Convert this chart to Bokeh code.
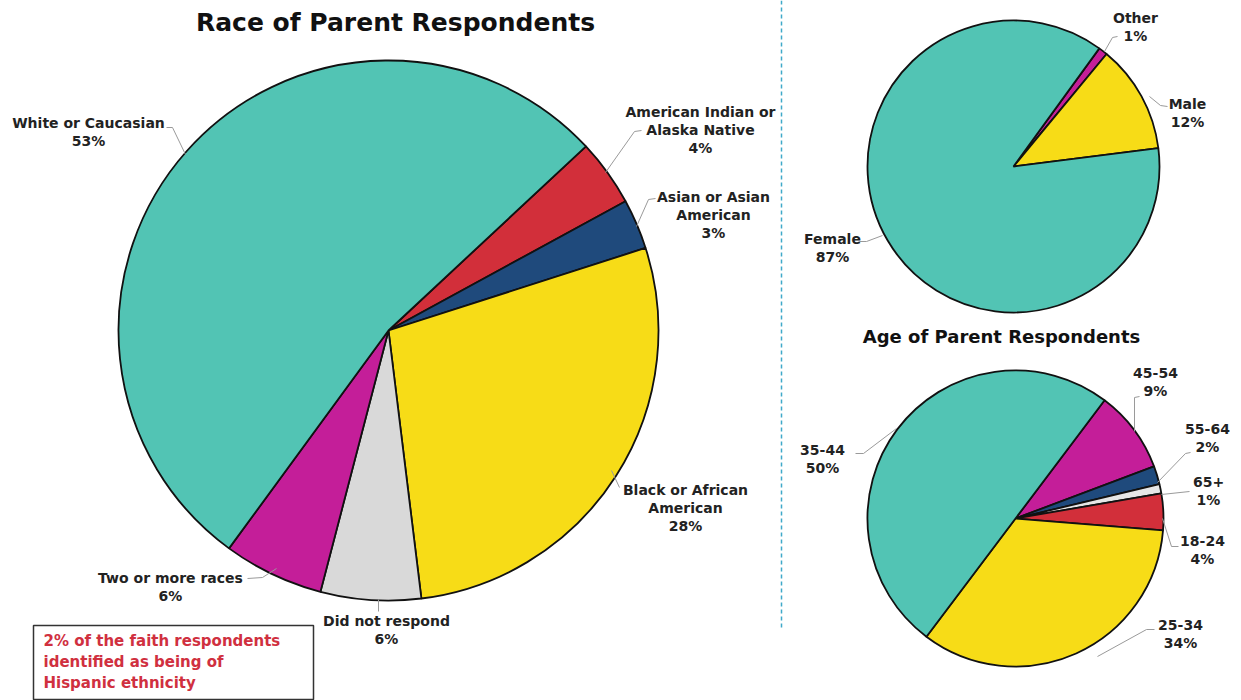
from bokeh.plotting import figure
from bokeh.models import Range1d, ColumnDataSource
from bokeh.core.properties import value
from bokeh.embed import file_html
from bokeh.resources import INLINE

# ---------------- data ----------------
race_names = ["American Indian or\nAlaska Native", "Asian or Asian\nAmerican", "Black or African\nAmerican",
              "Did not respond", "Two or more races", "White or Caucasian"]
race_values = [4, 3, 28, 6, 6, 53]
race_colors = ["#D22F3A", "#1F4A7C", "#F7DC17", "#D9D9D9", "#C41E99", "#52C4B4"]

gender_names = ["Other", "Male", "Female"]
gender_values = [1, 12, 87]
gender_colors = ["#C41E99", "#F7DC17", "#52C4B4"]

age_names = ["45-54", "55-64", "65+", "18-24", "25-34", "35-44"]
age_values = [9, 2, 1, 4, 34, 50]
age_colors = ["#C41E99", "#1F4A7C", "#E6E6E6", "#D22F3A", "#F7DC17", "#52C4B4"]

title_race = "Race of Parent Respondents"
title_age = "Age of Parent Respondents"
note_lines = ["2% of the faith respondents", "identified as being of", "Hispanic ethnicity"]

# ---------------- layout ----------------
W, H = 1241, 700
FONT = value("DejaVu Sans")

p = figure(width=W, height=H, output_backend="svg", toolbar_location=None,
           x_range=Range1d(0, W), y_range=Range1d(0, H), min_border=0)
p.axis.visible = False
p.grid.visible = False
p.outline_line_color = None
p.background_fill_color = "white"


def Y(y):
    return H - y


def draw_pie(cx, cy, r, start, vals, cols):
    ends, starts = [], []
    cum = 0.0
    for v in vals:
        s = start - cum * 3.6
        cum += v
        e = start - cum * 3.6
        starts.append(e)
        ends.append(s)
    src = ColumnDataSource(dict(sa=starts, ea=ends, c=cols))
    p.wedge(x=cx, y=Y(cy), radius=r, radius_units="screen", start_angle="sa", end_angle="ea",
            start_angle_units="deg", end_angle_units="deg", fill_color="c",
            line_color="#111111", line_width=1.8, source=src)


def draw_label(lines, cx, cy, size="14px", color="#222222", align="center", step=18):
    for i, t in enumerate(lines):
        p.text(x=[cx], y=[Y(cy + i * step)], text=[t], text_font=FONT, text_font_size=size,
               text_font_style="bold", text_align=align, text_baseline="middle", text_color=color)


def leader(pts):
    p.line(x=[a for a, b in pts], y=[Y(b) for a, b in pts], line_color="#9A9A9A", line_width=1)


# separator dashed line
p.line(x=[781, 781], y=[Y(0), Y(628)], line_color="#3FA9C9", line_width=1.5, line_dash="4 3")

# race pie
draw_pie(388, 330, 270, 43, race_values, race_colors)
race_pos = [(700, 111), (713, 196), (685, 489), (386, 620), (170, 577), (88, 122)]
race_leaders = [
    [(641, 130), (634, 131), (605, 172)],
    [(655, 198), (648, 199), (636, 226)],
    [(619, 487), (611, 470)],
    [(378, 599), (378, 611)],
    [(247, 578), (262, 577), (276, 568)],
    [(166, 127), (172, 127), (185, 154)],
]
for n, v, pos, ld in zip(race_names, race_values, race_pos, race_leaders):
    draw_label(n.split("\n") + [f"{v}%"], *pos)
    leader(ld)

draw_label([title_race], 395, 22, size="25px", color="#111111")

# gender pie
draw_pie(1013, 166, 146, 54, gender_values, gender_colors)
gender_pos = [(1135, 17), (1187, 103), (832, 238)]
gender_leaders = [
    [(1117, 36), (1112, 37), (1104, 51)],
    [(1167, 106), (1160, 105), (1149, 96)],
    [(858, 241), (866, 241), (882, 235)],
]
for n, v, pos, ld in zip(gender_names, gender_values, gender_pos, gender_leaders):
    draw_label([n, f"{v}%"], *pos)
    leader(ld)

# age pie
draw_label([title_age], 1001, 336, size="18px", color="#111111")
draw_pie(1015, 518, 148, 53, age_values, age_colors)
age_pos = [(1155, 372), (1207, 428), (1208, 481), (1202, 540), (1180, 624), (822, 449)]
age_leaders = [
    [(1139, 396), (1134, 397), (1134, 431)],
    [(1190, 452), (1185, 453), (1157, 482)],
    [(1189, 491), (1161, 494)],
    [(1178, 546), (1171, 546), (1162, 518)],
    [(1154, 629), (1146, 629), (1097, 656)],
    [(855, 453), (863, 453), (896, 428)],
]
for n, v, pos, ld in zip(age_names, age_values, age_pos, age_leaders):
    draw_label([n, f"{v}%"], *pos)
    leader(ld)

# note box
p.quad(left=[33], right=[313], top=[Y(625)], bottom=[Y(699)], fill_color="white",
       line_color="#333333", line_width=1.5)
draw_label(note_lines, 43, 640, size="15px", color="#D0303F", align="left", step=21)

open("out.html", "w").write(file_html(p, INLINE))
